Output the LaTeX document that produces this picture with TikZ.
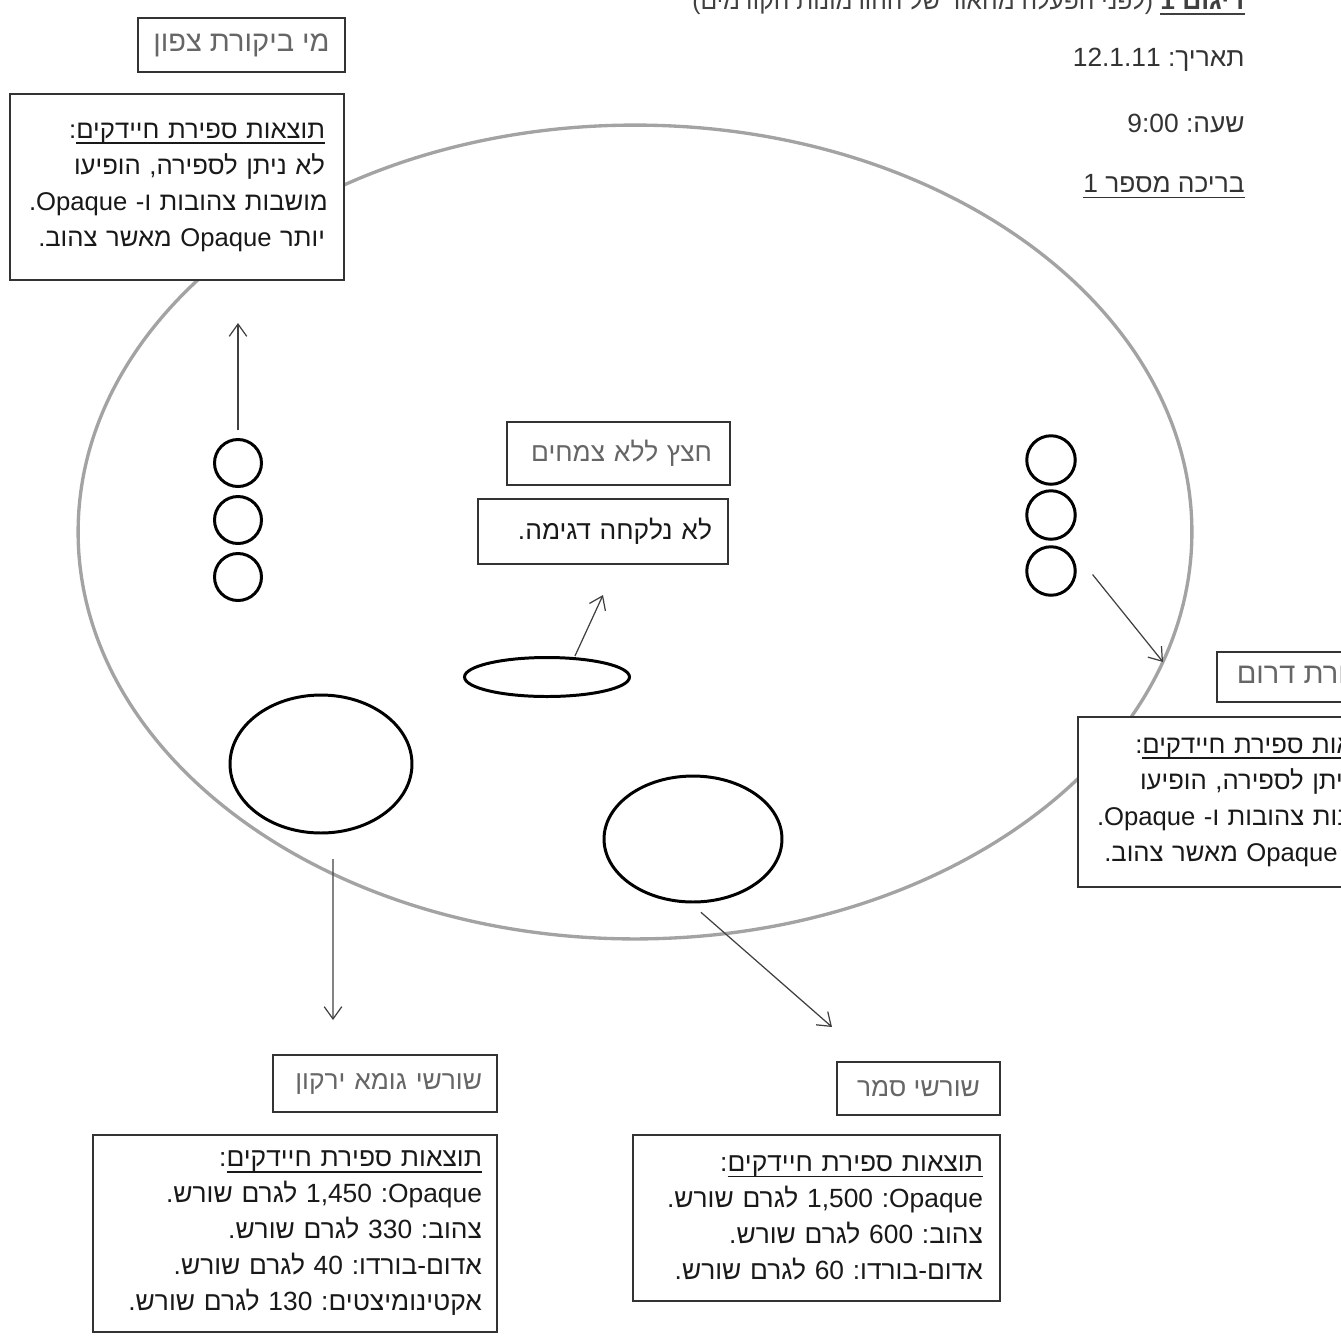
\documentclass[tikz,border=0pt]{standalone}
\usepackage{fontspec}
\setmainfont{Liberation Sans}
\newfontfamily\hebfont[Script=Hebrew]{Liberation Sans}
\TeXXeTstate=1
\frenchspacing
\usetikzlibrary{arrows.meta,shapes.geometric}

\newsavebox\ulbox
\newcommand\rtl[1]{\leavevmode\hbox{\beginR#1\endR}}
\newcommand\ulrtl[1]{\leavevmode\sbox\ulbox{\beginR#1\endR}\rlap{\rule[-3.2pt]{\wd\ulbox}{0.75pt}}\usebox\ulbox}
\newcommand\kz{\kern0pt}

\begin{document}
\begin{tikzpicture}[x=0.02cm,y=-0.02cm,
    font=\hebfont\fontsize{15}{20.5}\selectfont\frenchspacing,
    >={Straight Barb[length=7pt,width=10pt]},
    resbox/.style={draw=black!80,line width=0.8pt,fill=white,inner sep=0pt,text=black!90},
    tagbox/.style={resbox,text=black!60},
    ctrlbox/.style={resbox,font=\hebfont\fontsize{14.6}{20.5}\selectfont\frenchspacing,align=right},
    headline/.style={anchor=east,inner sep=0pt,text=black!80},
    ring/.style={circle,draw,line width=1.7pt,inner sep=0pt,minimum size=0.94cm},
    blob/.style={ellipse,draw,line width=1.7pt,inner sep=0pt},
    pointer/.style={->,draw=black!75,line width=0.7pt}]
  \clip (0,0) rectangle (1341,1336);

  % pond outline
  \draw[black!36,line width=1.9pt] (635,532) ellipse [x radius=11.14cm,y radius=8.14cm];

  % header
  \node[headline,anchor=base east,text=black!75] (title) at (1245,9) {{\fontsize{14}{18}\selectfont\rtl{\kz(לפני הפעלה מהאור של ההורמונות הקודמים\kz)}}\ \ulrtl{\bfseries דיגום 1}};
  \node[headline] (date) at (1245,60) {\rtl{תאריך\kz: 12.1.11}};
  \node[headline] (hour) at (1245,124) {\rtl{שעה\kz: 9:00}};
  \node[headline] (pool) at (1245,186) {\ulrtl{בריכה מספר 1}};

  % north control
  \node[tagbox,font=\hebfont\fontsize{16.5}{20}\selectfont,minimum width=4.14cm,minimum height=1.08cm] (ctrlN) at (241.5,45) {\rtl{מי ביקורת צפון}};
  \node[ctrlbox,minimum width=6.68cm,minimum height=3.72cm,text width=5.92cm] (resN) at (177,187) {
      :\ulrtl{תוצאות ספירת חיידקים}\\
      \rtl{לא ניתן לספירה\kz, הופיעו}\\
      \rtl{מושבות צהובות ו\kz- Opaque\kz.}\\
      \rtl{יותר Opaque מאשר צהוב\kz.}};
  \foreach \i/\y in {1/463,2/520,3/577} \node[ring] (nc\i) at (238,\y) {};
  \coordinate (nup) at (238,323);
  \draw[pointer,shorten <=4.5pt] (nc1.north) -- (nup);

  % south control
  \foreach \i/\y in {1/460,2/515,3/571} \node[ring,minimum size=0.97cm] (sc\i) at (1051,\y) {};
  \coordinate (stip) at (1163,662);
  \draw[pointer] ([xshift=9pt,yshift=-2pt]sc3.east) -- (stip);
  \node[tagbox,font=\hebfont\fontsize{16.5}{20}\selectfont,minimum width=4.52cm,minimum height=1cm] (ctrlS) at (1330,677) {\rtl{מי ביקורת דרום}};
  \node[ctrlbox,minimum width=6.64cm,minimum height=3.4cm,text width=5.88cm] (resS) at (1244,802) {
      :\ulrtl{תוצאות ספירת חיידקים}\\
      \rtl{לא ניתן לספירה\kz, הופיעו}\\
      \rtl{מושבות צהובות ו\kz- Opaque\kz.}\\
      \rtl{יותר Opaque מאשר צהוב\kz.}};

  % gravel
  \node[blob,minimum width=3.3cm,minimum height=0.78cm] (gravel) at (547,677) {};
  \coordinate (gtip) at (603,595);
  \draw[pointer] ([xshift=15.9pt]gravel.north) -- (gtip);
  \node[tagbox,minimum width=4.46cm,minimum height=1.26cm,text width=3.74cm,align=right] (gravelN) at (618.5,453.5) {\rtl{חצץ ללא צמחים}};
  \node[resbox,minimum width=5cm,minimum height=1.3cm,text width=4.36cm,align=right] (gravelR) at (603,531.5) {\rtl{לא נלקחה דגימה\kz.}};

  % roots
  \node[blob,minimum width=3.64cm,minimum height=2.76cm] (rootG) at (321,764) {};
  \coordinate (gdown) at (333,1020);
  \draw[pointer] ([xshift=6.8pt,yshift=-14pt]rootG.south) -- (gdown);
  \node[blob,minimum width=3.56cm,minimum height=2.52cm] (rootS) at (693,839) {};
  \coordinate (sdown) at (832,1027);
  \draw[pointer] ([xshift=4.5pt,yshift=-5pt]rootS.south) -- (sdown);

  \node[tagbox,minimum width=4.48cm,minimum height=1.14cm,text width=3.88cm,align=right] (rootsG) at (385,1083.5) {\rtl{שורשי גומא ירקון}};
  \node[resbox,minimum width=8.08cm,minimum height=3.94cm,text width=7.48cm,align=right] (resG) at (295,1233.5) {
      :\ulrtl{תוצאות ספירת חיידקים}\\
      \rtl{Opaque\kz: 1,450 לגרם שורש\kz.}\\
      \rtl{צהוב\kz: 330 לגרם שורש\kz.}\\
      \rtl{אדום-בורדו\kz: 40 לגרם שורש\kz.}\\
      \rtl{אקטינומיצטים\kz: 130 לגרם שורש\kz.}};
  \node[tagbox,minimum width=3.26cm,minimum height=1.06cm] (rootsS) at (918.5,1088.5) {\rtl{שורשי סמר}};
  \node[resbox,minimum width=7.34cm,minimum height=3.32cm,text width=6.66cm,align=right] (resS2) at (816.5,1218) {
      :\ulrtl{תוצאות ספירת חיידקים}\\
      \rtl{Opaque\kz: 1,500 לגרם שורש\kz.}\\
      \rtl{צהוב\kz: 600 לגרם שורש\kz.}\\
      \rtl{אדום-בורדו\kz: 60 לגרם שורש\kz.}};
\end{tikzpicture}
\end{document}
